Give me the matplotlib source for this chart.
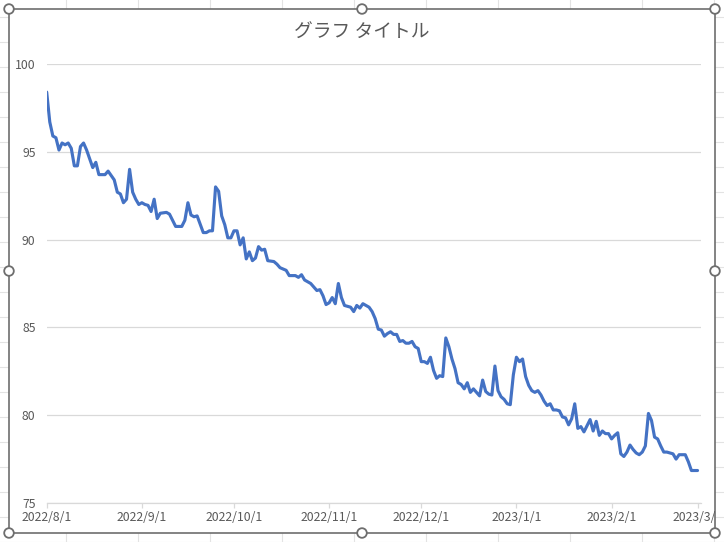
import matplotlib
matplotlib.use("Agg")
import matplotlib.pyplot as plt
import matplotlib.dates as mdates
from matplotlib.patches import Rectangle, Circle
from matplotlib.lines import Line2D
from matplotlib.transforms import Bbox, TransformedBbox
import numpy as np

plt.rcParams['font.family'] = ['Noto Sans CJK JP', 'DejaVu Sans']

# data (days since 2022/8/1, value)
start = np.datetime64('2022-08-01')
days = [0, 1, 2, 3, 4, 5, 6, 7, 8, 9,
        10, 11, 12, 13, 15, 16, 17, 19, 20, 22,
        23, 24, 25, 26, 27, 28, 29, 30, 31, 32,
        33, 34, 35, 36, 37, 39, 40, 42, 44, 45,
        46, 47, 48, 49, 51, 52, 53, 54, 55, 56,
        57, 58, 59, 60, 61, 62, 63, 64, 65, 66,
        67, 68, 69, 70, 71, 72, 74, 75, 76, 78,
        79, 81, 82, 83, 84, 86, 88, 89, 90, 91,
        92, 93, 94, 95, 96, 97, 99, 100, 101, 102,
        103, 105, 106, 107, 108, 109, 110, 111, 112, 113,
        114, 115, 116, 117, 118, 119, 120, 121, 122, 123,
        124, 125, 126, 127, 128, 129, 130, 131, 132, 133,
        134, 135, 136, 137, 138, 139, 140, 141, 142, 143,
        144, 145, 146, 147, 148, 149, 150, 151, 152, 153,
        154, 155, 156, 157, 158, 159, 160, 161, 162, 163,
        164, 165, 166, 167, 168, 169, 170, 171, 172, 173,
        174, 175, 176, 177, 178, 179, 180, 181, 182, 183,
        184, 185, 186, 187, 188, 189, 190, 191, 192, 193,
        194, 195, 196, 197, 198, 199, 200, 201, 202, 203,
        204, 205, 206, 207, 208, 209, 210, 212]
values = [98.4, 96.7, 95.9, 95.8, 95.1, 95.5, 95.4, 95.5, 95.2, 94.2,
          94.2, 95.3, 95.5, 95.1, 94.1, 94.4, 93.7, 93.7, 93.9, 93.4,
          92.7, 92.6, 92.1, 92.3, 94.0, 92.7, 92.3, 92.0, 92.1, 92.0,
          91.95, 91.6, 92.3, 91.2, 91.5, 91.55, 91.45, 90.75, 90.75, 91.1,
          92.1, 91.4, 91.3, 91.35, 90.4, 90.4, 90.5, 90.5, 93.0, 92.75,
          91.35, 90.85, 90.1, 90.1, 90.5, 90.5, 89.7, 90.1, 88.9, 89.3,
          88.8, 88.95, 89.6, 89.4, 89.45, 88.8, 88.75, 88.6, 88.4, 88.25,
          87.95, 87.95, 87.85, 88.0, 87.7, 87.5, 87.1, 87.15, 86.8, 86.3,
          86.4, 86.7, 86.35, 87.5, 86.7, 86.25, 86.15, 85.9, 86.25, 86.1,
          86.35, 86.15, 85.9, 85.5, 84.9, 84.85, 84.5, 84.65, 84.75, 84.6,
          84.6, 84.2, 84.25, 84.1, 84.1, 84.2, 83.9, 83.8, 83.05, 83.05,
          82.95, 83.3, 82.55, 82.1, 82.25, 82.2, 84.4, 83.9, 83.2, 82.65,
          81.85, 81.75, 81.5, 81.85, 81.3, 81.5, 81.3, 81.1, 82.0, 81.35,
          81.2, 81.15, 82.8, 81.4, 81.05, 80.9, 80.65, 80.6, 82.3, 83.3,
          83.05, 83.2, 82.2, 81.7, 81.4, 81.3, 81.4, 81.15, 80.8, 80.55,
          80.65, 80.3, 80.3, 80.25, 79.9, 79.85, 79.45, 79.8, 80.65, 79.25,
          79.35, 79.05, 79.4, 79.75, 79.1, 79.65, 78.85, 79.1, 78.95, 78.95,
          78.65, 78.85, 79.0, 77.8, 77.65, 77.9, 78.3, 78.05, 77.85, 77.75,
          77.9, 78.25, 80.1, 79.7, 78.75, 78.65, 78.25, 77.9, 77.9, 77.85,
          77.8, 77.5, 77.75, 77.75, 77.75, 77.35, 76.85, 76.85]

month_ticks = ['2022-08-01', '2022-09-01', '2022-10-01', '2022-11-01',
               '2022-12-01', '2023-01-01', '2023-02-01', '2023-03-01']
month_labels = ['2022/8/1', '2022/9/1', '2022/10/1', '2022/11/1',
                '2022/12/1', '2023/1/1', '2023/2/1', '2023/3/1']
yticks = [75, 80, 85, 90, 95, 100]

title = 'グラフ タイトル'
text_col = '#595959'
grid_col = '#D9D9D9'
W, H = 724, 542

fig = plt.figure(figsize=(W / 100, H / 100), dpi=100)
fig.patch.set_facecolor('white')
px = fig.dpi_scale_trans


def P(x, y):
    return x / 100, (H - y) / 100


# spreadsheet cell lines behind the chart
for cx in np.arange(-6.3, W, 72):
    fig.add_artist(Line2D([cx / 100] * 2, [0, H / 100], transform=px,
                          color='#E3E3E3', lw=0.8, zorder=0))
for cy in np.arange(16.7, H, 25):
    fig.add_artist(Line2D([0, W / 100], [(H - cy) / 100] * 2, transform=px,
                          color='#E3E3E3', lw=0.8, zorder=0))

# chart area
x0, y0, x1, y1 = 9, 9, 715, 533
fig.add_artist(Rectangle(P(x0, y1), (x1 - x0) / 100, (y1 - y0) / 100,
                         transform=px, facecolor='white', edgecolor='#6E6E6E',
                         lw=1.2, zorder=1))

ax = fig.add_axes([46.7 / W, 1 - 503 / H, (701 - 46.7) / W, (503 - 64) / H])
ax.set_zorder(2)
ax.set_facecolor('white')

xd = start + np.array(days).astype('timedelta64[D]')
ax.plot(xd, values, color='#4472C4', lw=2.25, solid_joinstyle='round',
        solid_capstyle='round', zorder=3)

ax.set_ylim(75, 100)
ax.set_yticks(yticks)
ax.set_xlim(start, start + np.timedelta64(51, 'h') + np.timedelta64(211, 'D'))
ax.set_xticks([np.datetime64(d) for d in month_ticks], labels=month_labels)

ax.grid(axis='y', color=grid_col, lw=0.9)
ax.set_axisbelow(True)
for s in ['top', 'right', 'left']:
    ax.spines[s].set_visible(False)
ax.spines['bottom'].set_color(grid_col)
ax.spines['bottom'].set_linewidth(0.9)
ax.tick_params(axis='y', length=0, pad=8, labelsize=8.8, labelcolor=text_col)
ax.tick_params(axis='x', length=3.5, width=0.9, color=grid_col, pad=2.5,
               labelsize=8.8, labelcolor=text_col)

clip = TransformedBbox(Bbox.from_extents(x0 / 100, (H - y1) / 100,
                                         x1 / 100, (H - y0) / 100), px)
for t in ax.get_xticklabels():
    t.set_clip_on(True)
    t.set_clip_box(clip)

fig.text(362 / W, 1 - 32 / H, title, ha='center', va='center',
         fontsize=13.5, color=text_col, zorder=4)

# selection handles
for hx, hy in [(x0, y0), (362, y0), (x1, y0), (x0, 271), (x1, 271),
               (x0, y1), (362, y1), (x1, y1)]:
    fig.add_artist(Circle(P(hx, hy), 0.048, transform=px, facecolor='white',
                          edgecolor='#6E6E6E', lw=1.3, zorder=5))

fig.savefig('out.png', dpi=100)
